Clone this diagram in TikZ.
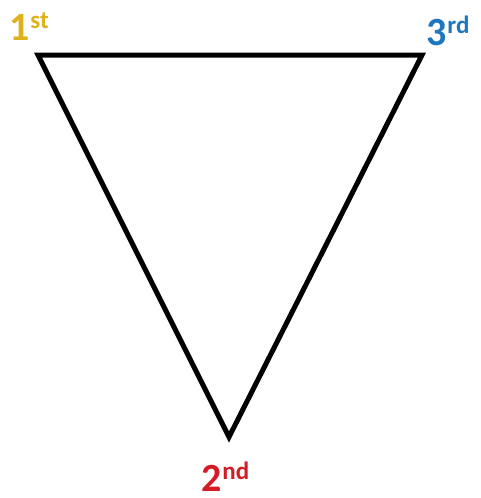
\documentclass[tikz,border=0pt]{standalone}
\usepackage{fontspec}
\setmainfont{Carlito}
\definecolor{gold}{RGB}{222,178,30}
\definecolor{blu}{RGB}{30,118,190}
\definecolor{rd}{RGB}{212,28,38}
\newcommand{\ordlab}[2]{{\fontsize{40}{40}\selectfont\bfseries #1}\kern1pt\raisebox{12pt}{\fontsize{25}{25}\selectfont\bfseries #2}}
\begin{document}
\begin{tikzpicture}[x=1pt,y=-1pt,
  lab/.style={inner sep=0pt,anchor=base west},
  edge/.style={line width=5pt,line join=miter,black}]
\useasboundingbox (0,0) rectangle (481,498);
\coordinate (A) at (38,55);
\coordinate (C) at (422,55);
\coordinate (B) at (229,437);
\draw[edge] (A) -- (C) -- (B) -- cycle;
\node[lab,text=gold] (l1) at (9,40) {\ordlab{1}{st}};
\node[lab,text=blu] (l3) at (426,45) {\ordlab{3}{rd}};
\node[lab,text=rd] (l2) at (201,491) {\ordlab{2}{nd}};
\end{tikzpicture}
\end{document}
